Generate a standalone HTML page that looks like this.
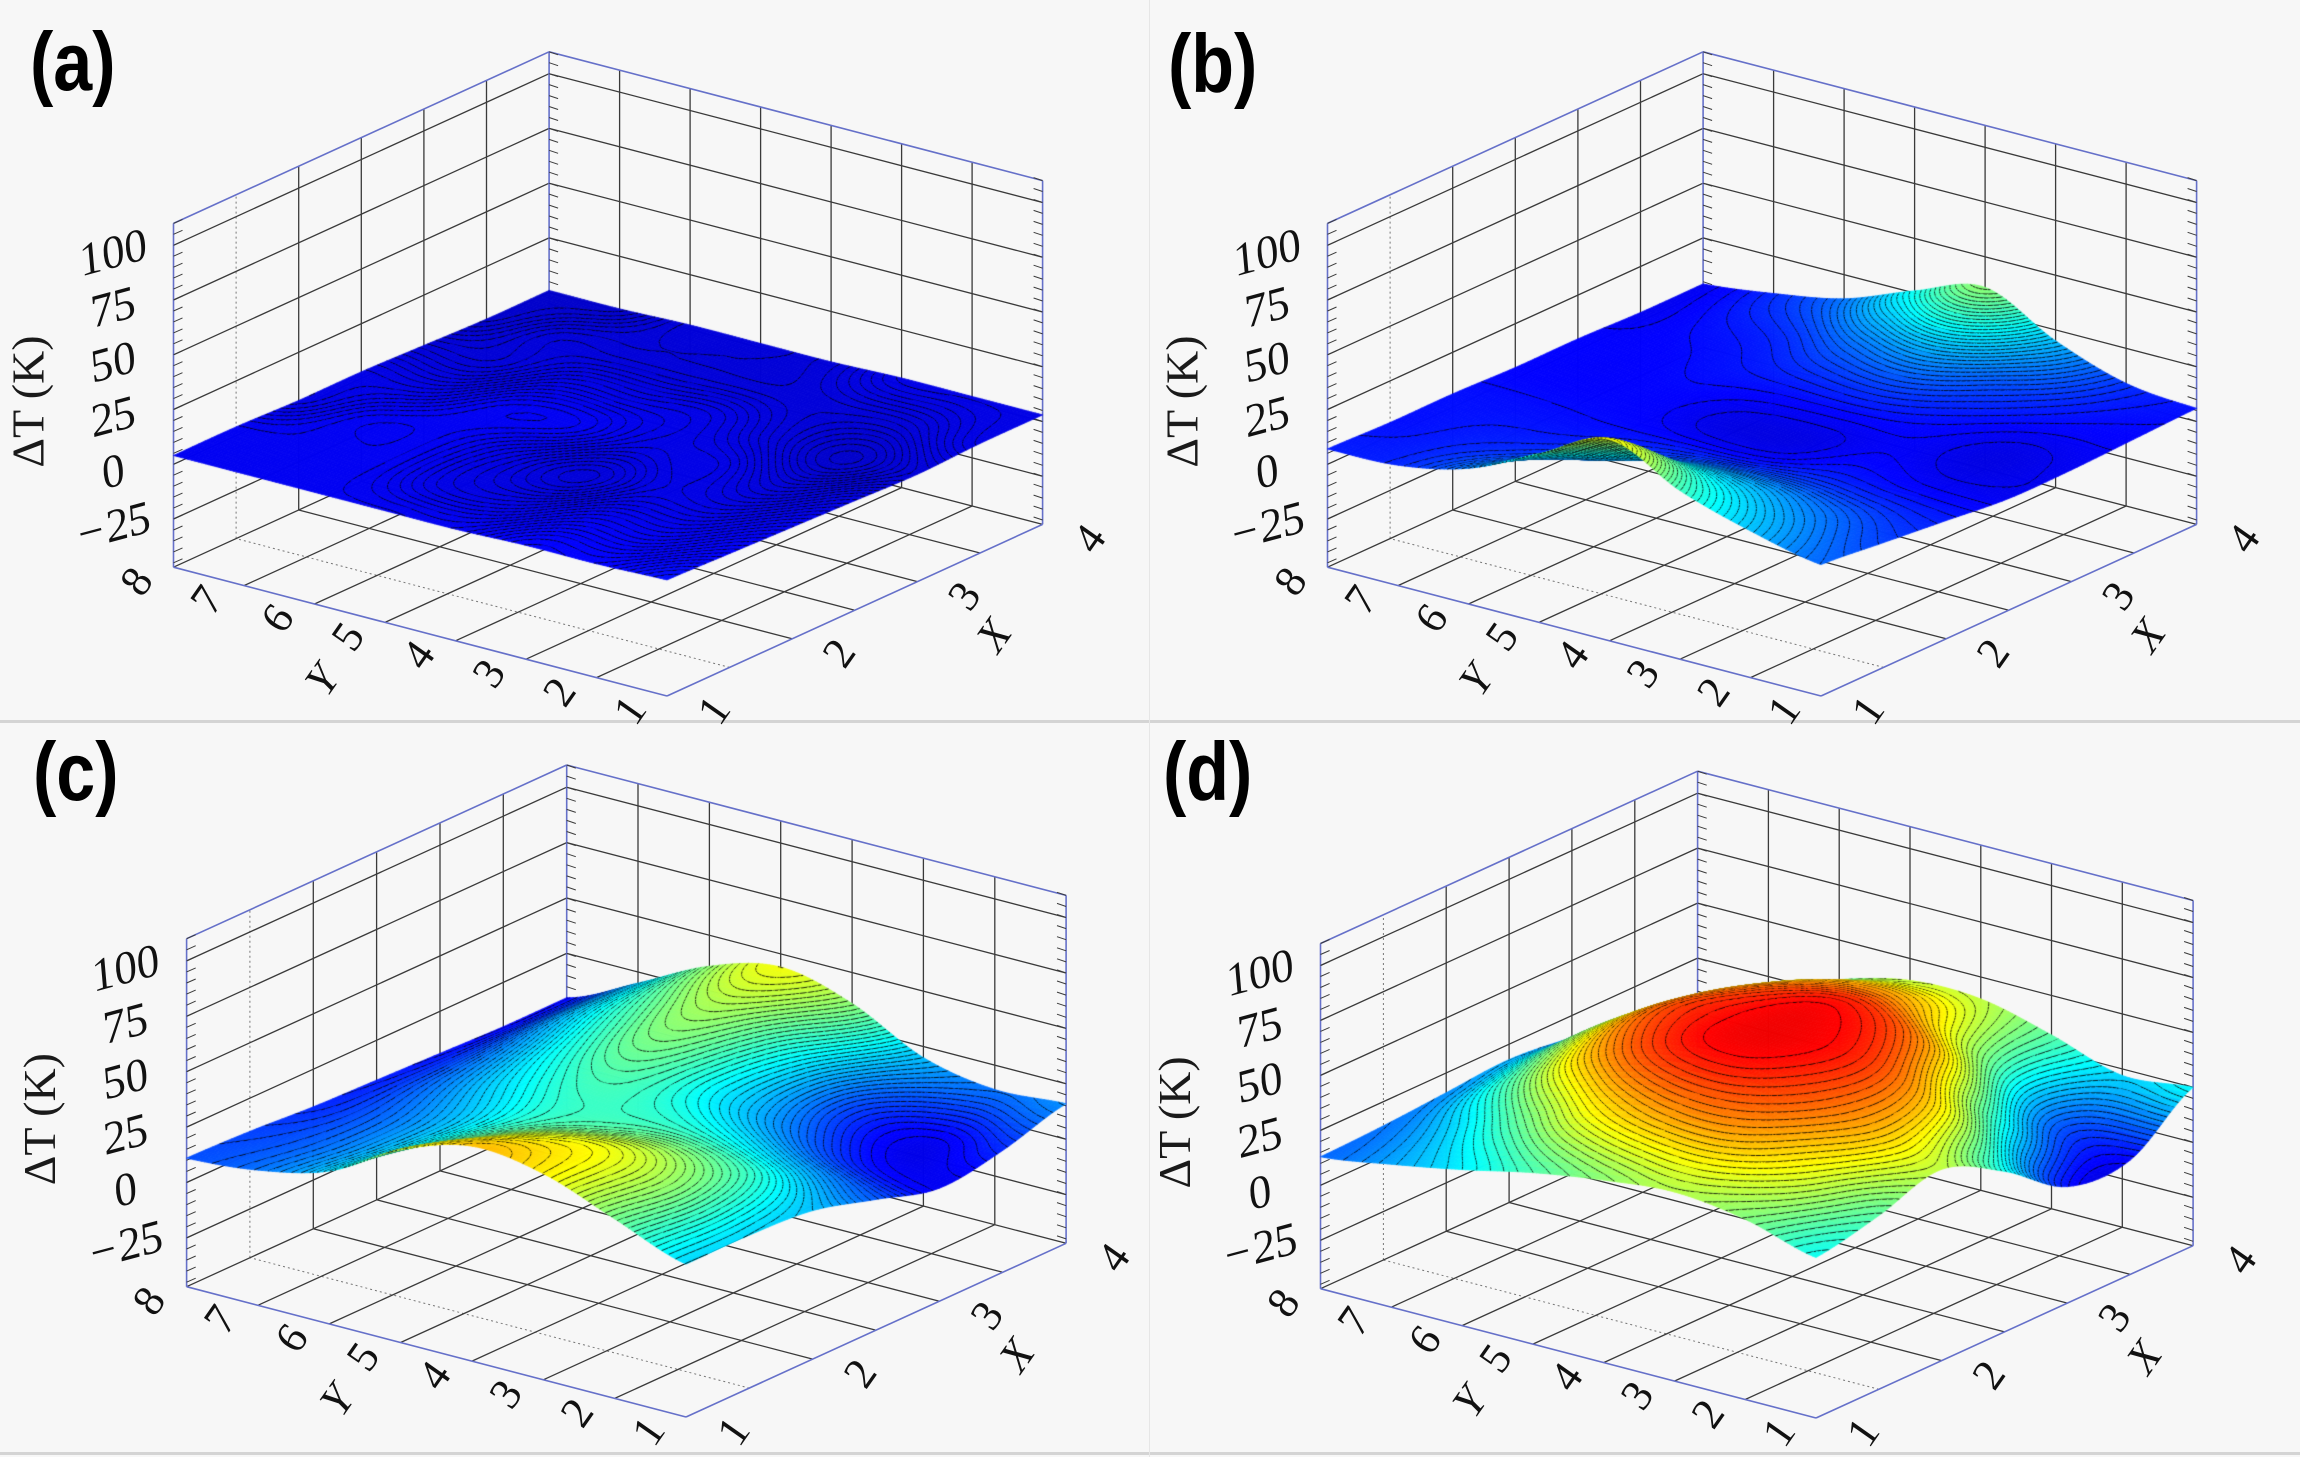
<!DOCTYPE html>
<html><head><meta charset="utf-8">
<style>
html,body{margin:0;padding:0;background:#f6f6f6;}
#wrap{position:relative;width:2300px;height:1457px;overflow:hidden;background:#f7f7f7;}
#chart,#surf{position:absolute;left:0;top:0;}
text{font-family:"Liberation Serif",serif;}
</style></head>
<body>
<div id="wrap">
<svg id="chart" width="2300" height="1457"></svg>
<canvas id="surf" width="2300" height="1457"></canvas>
</div>
<script>
// ---- data ----
const zTicks = [-25, 0, 25, 50, 75, 100];
const xTicks = [1, 2, 3, 4];
const yTicks = [1, 2, 3, 4, 5, 6, 7, 8];
const xGridVals = [1, 1.5, 2, 2.5, 3, 3.5, 4];
const yGridVals = [1, 2, 3, 4, 5, 6, 7, 8];
const panelLabels = ["(a)", "(b)", "(c)", "(d)"];
// surface grids: rows Y=1..8, cols X=1,1.5,...,4 (ΔT in K)
const surfA = [
 [6,5,4,3,2,3,3],
 [5,4,3,2,1,2,3],
 [5,4,3,3,2,2,3],
 [4,3,2,3,3,2,2],
 [4,3,3,4,3,2,2],
 [4,4,4,4,3,2,2],
 [4,4,4,3,2,2,1],
 [4,4,3,3,2,1,1]];
const surfB = [
 [13,10,7,4,4,5,6],
 [20,15,8,4,3,6,9],
 [30,20,9,5,5,10,20],
 [45,22,8,3,6,16,36],
 [30,14,7,3,6,13,26],
 [15,9,6,5,6,8,14],
 [8,7,6,5,5,6,8],
 [7,6,6,5,5,4,4]];
const surfC = [
 [22,22,20,12,4,8,16],
 [34,36,30,18,6,4,14],
 [46,44,34,24,14,10,20],
 [50,42,32,28,24,26,36],
 [40,32,28,30,34,38,44],
 [22,20,20,24,28,32,36],
 [14,13,13,15,17,20,20],
 [11,10,8,7,6,5,5]];
const surfD = [
 [26,32,40,26,6,5,25],
 [35,44,52,48,28,12,22],
 [39,52,60,62,53,34,32],
 [36,52,64,66,63,50,40],
 [31,46,61,64,61,52,40],
 [24,34,50,57,53,44,32],
 [18,22,32,38,36,28,20],
 [13,14,16,18,15,11,8]];

// ---- layout ----
const ZMIN = -47, ZMAX = 110, ZS = 2.19;
const CMIN = -5, CMAX = 75;
const panels = [
 {ox:667, oy:696, s:1, Z:surfA, lx:30, ly:90, n:35},
 {ox:1821, oy:696, s:1, Z:surfB, lx:1168, ly:92, n:45},
 {ox:686, oy:1417, s:1.012, Z:surfC, lx:33, ly:800, n:45},
 {ox:1816, oy:1418, s:1.004, Z:surfD, lx:1163, ly:800, n:45}
];
function P(p, X, Y, z){
  return [p.ox + p.s*(125.2*(X-1) - 70.5*(Y-1)),
          p.oy + p.s*(-57.2*(X-1) - 18.4*(Y-1) - (z-ZMIN)*ZS)];
}
const NS = "http://www.w3.org/2000/svg";
const svg = document.getElementById('chart');
function mk(tag, attrs, parent){
  const e = document.createElementNS(NS, tag);
  for (const k in attrs) e.setAttribute(k, attrs[k]);
  parent.appendChild(e);
  return e;
}
function line(g, a, b, stroke, w, dash){
  const e = mk('line', {x1:a[0].toFixed(1), y1:a[1].toFixed(1), x2:b[0].toFixed(1), y2:b[1].toFixed(1), stroke:stroke, 'stroke-width':w}, g);
  if (dash) e.setAttribute('stroke-dasharray', dash);
  return e;
}
const sep = mk('g', {}, svg);


mk('rect', {x:0, y:720, width:2300, height:3, fill:'#d4d4d4'}, sep);
mk('rect', {x:0, y:1452, width:2300, height:3, fill:'#d4d4d4'}, sep);
mk('rect', {x:1149, y:0, width:1, height:1457, fill:'#e6e6e6'}, sep);

const BLUE = '#6570c9', GRID = '#3a3a3a';
panels.forEach((p, pi) => {
  const g = mk('g', {}, svg);
  
  
  const grid = mk('g', {}, g);
  
  
  xGridVals.slice(1, -1).forEach(X => {
    line(grid, P(p,X,8,ZMIN), P(p,X,8,ZMAX), X===1.5?'#777':GRID, X===1.5?1:1.3, X===1.5?'2,3':null);
  });
  zTicks.forEach(z => line(grid, P(p,1,8,z), P(p,4,8,z), GRID, 1.3));
  yGridVals.slice(1, -1).forEach(Y => line(grid, P(p,4,Y,ZMIN), P(p,4,Y,ZMAX), GRID, 1.3));
  zTicks.forEach(z => line(grid, P(p,4,8,z), P(p,4,1,z), GRID, 1.3));
  xGridVals.slice(1, -1).forEach(X => {
    line(grid, P(p,X,1,ZMIN), P(p,X,8,ZMIN), X===1.5?'#777':GRID, X===1.5?1:1.3, X===1.5?'2,3':null);
  });
  yGridVals.slice(1, -1).forEach(Y => line(grid, P(p,1,Y,ZMIN), P(p,4,Y,ZMIN), GRID, 1.3));
  line(grid, P(p,1,8,ZMIN), P(p,4,8,ZMIN), GRID, 1.3);
  line(grid, P(p,4,8,ZMIN), P(p,4,1,ZMIN), GRID, 1.3);
  const box = mk('g', {}, g);
  
  
  line(box, P(p,1,8,ZMIN), P(p,1,8,ZMAX), BLUE, 1.6);
  line(box, P(p,4,8,ZMIN), P(p,4,8,ZMAX), BLUE, 1.6);
  line(box, P(p,4,1,ZMIN), P(p,4,1,ZMAX), BLUE, 1.6);
  line(box, P(p,1,8,ZMAX), P(p,4,8,ZMAX), BLUE, 1.6);
  line(box, P(p,4,8,ZMAX), P(p,4,1,ZMAX), BLUE, 1.6);
  line(box, P(p,1,8,ZMIN), P(p,1,1,ZMIN), BLUE, 1.6);
  line(box, P(p,1,1,ZMIN), P(p,4,1,ZMIN), BLUE, 1.6);
  for (let z = -45; z <= 110; z += 5) {
    const a = P(p,1,8,z); line(box, a, [a[0]+9*p.s, a[1]-4*p.s], GRID, 1);
    const b = P(p,4,8,z); line(box, b, [b[0]+9*p.s, b[1]+3*p.s], GRID, 1);
    const c = P(p,4,1,z); line(box, c, [c[0]-9*p.s, c[1]-3*p.s], GRID, 1);
  }
  zTicks.forEach(z => {
    const a = P(p,1,8,z);
    const cx = a[0]-60*p.s, cy = a[1]+22;
    const t = mk('text', {x:cx.toFixed(1), y:cy.toFixed(1), 'font-size':46, 'font-style':'italic', 'text-anchor':'middle', fill:'#111',
      transform:`rotate(-15 ${cx.toFixed(1)} ${(cy-12).toFixed(1)})`}, g);
    t.textContent = z === -25 ? '−25' : String(z);
    
    
  });
  const zt0 = P(p,1,8,25);
  const zx = zt0[0] - 130*p.s, zy = zt0[1] - 8;
  const zt = mk('text', {x:zx.toFixed(1), y:zy.toFixed(1), 'font-size':46, 'text-anchor':'middle', fill:'#1a1a1a', transform:`rotate(-90 ${zx.toFixed(1)} ${zy.toFixed(1)})`}, g);
  zt.textContent = 'ΔT (K)';
  
  
  yTicks.forEach(Y => {
    const a = P(p,1,Y,ZMIN);
    const x = a[0]-36*p.s, y = a[1]+28;
    const t = mk('text', {x:x.toFixed(1), y:y.toFixed(1), 'font-size':44, 'text-anchor':'middle', fill:'#111', transform:`rotate(-55 ${x.toFixed(1)} ${(y-13).toFixed(1)})`}, g);
    t.textContent = String(Y);
    
    
  });
  const yt0 = P(p,1,4.6,ZMIN);
  const yx = yt0[0]-90*p.s, yy = yt0[1]+64;
  const yt = mk('text', {x:yx.toFixed(1), y:yy.toFixed(1), 'font-size':44, 'font-style':'italic', 'text-anchor':'middle', fill:'#111', transform:`rotate(-55 ${yx.toFixed(1)} ${(yy-13).toFixed(1)})`}, g);
  yt.textContent = 'Y';
  
  
  xTicks.forEach(X => {
    const a = P(p,X,1,ZMIN);
    const x = a[0]+48*p.s, y = a[1]+28;
    const t = mk('text', {x:x.toFixed(1), y:y.toFixed(1), 'font-size':44, 'text-anchor':'middle', fill:'#111', transform:`rotate(-55 ${x.toFixed(1)} ${(y-13).toFixed(1)})`}, g);
    t.textContent = String(X);
    
    
  });
  const xt0 = P(p,2.9,1,ZMIN);
  const xx = xt0[0]+90*p.s, xy = xt0[1]+62;
  const xt = mk('text', {x:xx.toFixed(1), y:xy.toFixed(1), 'font-size':44, 'font-style':'italic', 'text-anchor':'middle', fill:'#111', transform:`rotate(-55 ${xx.toFixed(1)} ${(xy-13).toFixed(1)})`}, g);
  xt.textContent = 'X';
  
  
  const pl = mk('text', {x:0, y:0, 'font-size':70, 'font-weight':'bold', fill:'#000', style:'font-family:"Liberation Sans",sans-serif',
    transform:`translate(${p.lx} ${p.ly}) scale(1 1.18)`}, g);
  pl.textContent = panelLabels[pi];
  
  
});

// ---- surfaces ----
function cr(p0, p1, p2, p3, t){
  return 0.5*((2*p1) + (-p0+p2)*t + (2*p0-5*p1+4*p2-p3)*t*t + (-p0+3*p1-3*p2+p3)*t*t*t);
}
function sample(Z, u, v){
  const nx = Z[0].length, ny = Z.length;
  const iu = Math.min(Math.floor(u), nx-2), iv = Math.min(Math.floor(v), ny-2);
  const fu = u-iu, fv = v-iv;
  const cl = (a, n) => Math.max(0, Math.min(n-1, a));
  const rows = [];
  for (let k = -1; k <= 2; k++) {
    const r = Z[cl(iv+k, ny)];
    rows.push(cr(r[cl(iu-1,nx)], r[cl(iu,nx)], r[cl(iu+1,nx)], r[cl(iu+2,nx)], fu));
  }
  return cr(rows[0], rows[1], rows[2], rows[3], fv);
}
function jet(z){
  let t = (z-CMIN)/(CMAX-CMIN); t = Math.max(0, Math.min(1, t));
  const c = v => Math.round(255*Math.max(0, Math.min(1, v)));
  return `rgb(${c(1.5-Math.abs(4*t-3))},${c(1.5-Math.abs(4*t-2))},${c(1.5-Math.abs(4*t-1))})`;
}
const ctx = document.getElementById('surf').getContext('2d');
panels.forEach(p => {
  const NX = 60, NY = 140;
  const V = [];
  let mn = 1e9, mx = -1e9;
  for (let j = 0; j <= NY; j++) {
    const row = [];
    for (let i = 0; i <= NX; i++) {
      const z = sample(p.Z, i/NX*6, j/NY*7);
      row.push(z); mn = Math.min(mn, z); mx = Math.max(mx, z);
    }
    V.push(row);
  }
  const step = (mx-mn)/p.n;
  const cells = [];
  for (let j = 0; j < NY; j++) for (let i = 0; i < NX; i++) {
    const X = 1 + (i+0.5)/NX*3, Y = 1 + (j+0.5)/NY*7;
    cells.push([57.2*X + 18.4*Y, i, j]);
  }
  cells.sort((a, b) => b[0]-a[0]);
  const XY = (i, j) => [1 + i/NX*3, 1 + j/NY*7];
  ctx.lineJoin = 'round';
  cells.forEach(([k, i, j]) => {
    const cs = [[i,j],[i+1,j],[i+1,j+1],[i,j+1]];
    const vals = cs.map(([a,b]) => V[b][a]);
    const pts = cs.map(([a,b], q) => { const xy = XY(a,b); return P(p, xy[0], xy[1], vals[q]); });
    const col = jet((vals[0]+vals[1]+vals[2]+vals[3])/4);
    ctx.beginPath();
    ctx.moveTo(pts[0][0], pts[0][1]);
    for (let q = 1; q < 4; q++) ctx.lineTo(pts[q][0], pts[q][1]);
    ctx.closePath();
    ctx.fillStyle = col; ctx.fill();
    ctx.strokeStyle = col; ctx.lineWidth = 0.8; ctx.stroke();
    const lo = Math.min(...vals), hi = Math.max(...vals);
    let L = mn + Math.ceil((lo-mn)/step)*step;
    ctx.strokeStyle = 'rgba(0,0,0,0.85)'; ctx.lineWidth = 1;
    for (; L <= hi; L += step) {
      const hits = [];
      for (let e = 0; e < 4; e++) {
        const a = vals[e], b = vals[(e+1)%4];
        if ((a-L)*(b-L) < 0) {
          const t = (L-a)/(b-a);
          const pa = pts[e], pb = pts[(e+1)%4];
          hits.push([pa[0]+(pb[0]-pa[0])*t, pa[1]+(pb[1]-pa[1])*t]);
        }
      }
      if (hits.length >= 2) {
        ctx.beginPath();
        ctx.moveTo(hits[0][0], hits[0][1]); ctx.lineTo(hits[1][0], hits[1][1]);
        if (hits.length === 4) { ctx.moveTo(hits[2][0], hits[2][1]); ctx.lineTo(hits[3][0], hits[3][1]); }
        ctx.stroke();
      }
    }
  });
});
</script>
</body></html>
